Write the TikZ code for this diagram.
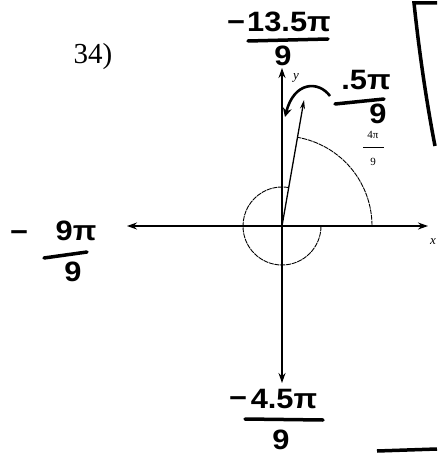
\documentclass[tikz,border=0pt]{standalone}
\usepackage{fontspec}
\setmainfont{Liberation Serif}
\newfontfamily\handfont{Liberation Sans}[FakeStretch=1.1]
\usetikzlibrary{arrows.meta}

\begin{document}
\begin{tikzpicture}[x=1pt, y=-1pt,
    axis/.style={{Stealth[length=10pt,width=7pt]}-{Stealth[length=10pt,width=7pt]}, line width=1.3pt},
    ray/.style={-{Stealth[length=9pt,width=5pt]}, line width=1.3pt},
    guide/.style={line width=0.9pt, dash pattern=on 5pt off 0.8pt},
    hand/.style={font=\handfont\bfseries\fontsize{28}{28}\selectfont, inner sep=0pt},
    bar/.style={line width=3.5pt, line cap=round},
    harrow/.style={-{Stealth[length=9pt,width=9pt]}, line width=2.6pt},
    lbl/.style={font=\itshape\fontsize{13}{13}\selectfont, inner sep=0pt}
  ]
  \useasboundingbox (0,0) rectangle (437,457);

  % axes and terminal side
  \coordinate (O) at (282,226);
  \coordinate (xl) at (127,226);
  \coordinate (xr) at (428,226);
  \coordinate (yt) at (282,68);
  \coordinate (yb) at (282,383);
  \coordinate (rt) at (304,100);
  \draw[axis] (xl) -- (xr);
  \draw[axis] (yb) -- (yt);
  \draw[ray] (O) -- (rt);
  \node[lbl] (xlab) at (433,242) {x};
  \node[lbl] (ylab) at (296,78) {y};

  % angle arcs
  \draw[guide] (372,226) arc[start angle=0, end angle=-80, radius=90];
  \draw[guide] (321,226) arc[start angle=0, end angle=280, radius=39];

  \node[font=\fontsize{29}{29}\selectfont, inner sep=0pt] (num) at (93,57) {34)};

  % printed angle
  \node[font=\fontsize{11}{11}\selectfont, inner sep=0pt] (pn) at (373,135) {4π};
  \draw[line width=0.6pt] (363,147) -- (384,147);
  \node[font=\fontsize{11}{11}\selectfont, inner sep=0pt] (pd) at (373,162) {9};

  % handwritten labels
  \node[hand] (am) at (236,26) {−};
  \node[hand] (an) at (289,22) {13.5π};
  \draw[bar] (248,41) -- (328,39);
  \node[hand] (ad) at (283,56) {9};

  \node[hand] (bn) at (366,80) {.5π};
  \draw[bar] (335,104) -- (384,99);
  \node[hand] (bd) at (378,114) {9};

  \node[hand] (cm) at (19,236) {−};
  \node[hand] (cn) at (76,231) {9π};
  \draw[bar] (44,258) -- (87,252);
  \node[hand] (cd) at (73,272) {9};

  \node[hand] (dm) at (238,402) {−};
  \node[hand] (dn) at (284,399) {4.5π};
  \draw[bar] (245,419) -- (323,420);
  \node[hand] (dd) at (281,440) {9};

  \coordinate (c1) at (330,96);
  \coordinate (c2) at (285,117);
  \draw[harrow] (c1) .. controls (318,80) and (294,82) .. (c2);

  % edge of the next box
  \draw[line width=3.5pt] (437,3) -- (414,3) .. controls (420,60) and (428,110) .. (435,146);
  \draw[line width=3.5pt] (377,451) -- (437,449);
\end{tikzpicture}
\end{document}
